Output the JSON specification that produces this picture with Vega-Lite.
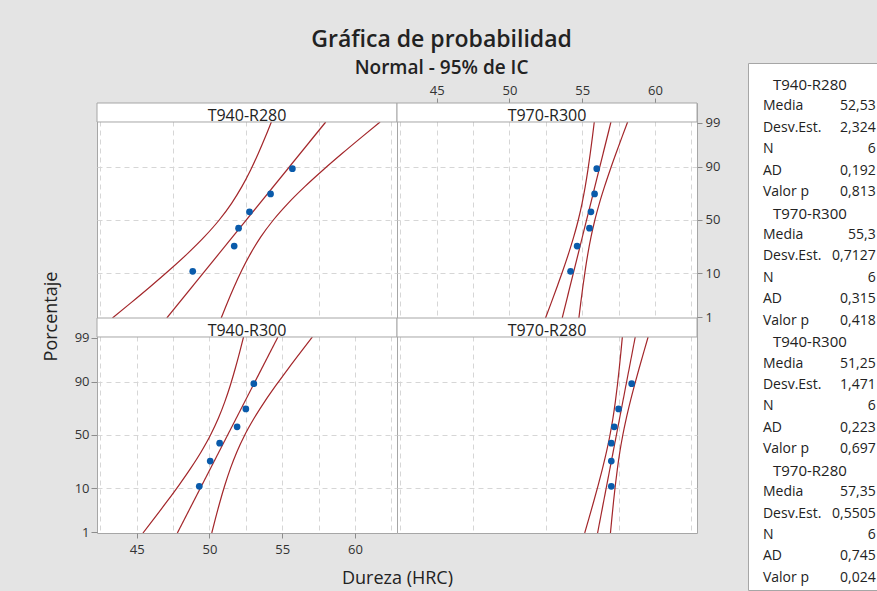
{
  "$schema": "https://vega.github.io/schema/vega-lite/v6.json",
  "background": "#e4e4e4",
  "padding": {"left": 41, "top": 28, "right": 0, "bottom": 0},
  "title": {
    "text": "Gráfica de probabilidad",
    "subtitle": "Normal - 95% de IC",
    "anchor": "middle",
    "fontSize": 23,
    "fontWeight": 600,
    "color": "#222222",
    "subtitleFontSize": 19,
    "subtitleFontWeight": 600,
    "subtitleColor": "#222222",
    "subtitlePadding": 7,
    "offset": -15,
    "dx": -18
  },
  "datasets": {
    "pts": [
      {"panel": "T940-R280", "p": 10.94, "z": -1.2296, "x": 48.85},
      {"panel": "T940-R280", "p": 26.56, "z": -0.626, "x": 51.7},
      {"panel": "T940-R280", "p": 42.19, "z": -0.197, "x": 52.0},
      {"panel": "T940-R280", "p": 57.81, "z": 0.197, "x": 52.75},
      {"panel": "T940-R280", "p": 73.44, "z": 0.626, "x": 54.2},
      {"panel": "T940-R280", "p": 89.06, "z": 1.2296, "x": 55.7},
      {"panel": "T970-R300", "p": 10.94, "z": -1.2296, "x": 54.2},
      {"panel": "T970-R300", "p": 26.56, "z": -0.626, "x": 54.65},
      {"panel": "T970-R300", "p": 42.19, "z": -0.197, "x": 55.5},
      {"panel": "T970-R300", "p": 57.81, "z": 0.197, "x": 55.6},
      {"panel": "T970-R300", "p": 73.44, "z": 0.626, "x": 55.85},
      {"panel": "T970-R300", "p": 89.06, "z": 1.2296, "x": 56.0},
      {"panel": "T940-R300", "p": 10.94, "z": -1.2296, "x": 49.3},
      {"panel": "T940-R300", "p": 26.56, "z": -0.626, "x": 50.05},
      {"panel": "T940-R300", "p": 42.19, "z": -0.197, "x": 50.7},
      {"panel": "T940-R300", "p": 57.81, "z": 0.197, "x": 51.9},
      {"panel": "T940-R300", "p": 73.44, "z": 0.626, "x": 52.5},
      {"panel": "T940-R300", "p": 89.06, "z": 1.2296, "x": 53.05},
      {"panel": "T970-R280", "p": 10.94, "z": -1.2296, "x": 57.0},
      {"panel": "T970-R280", "p": 26.56, "z": -0.626, "x": 57.0},
      {"panel": "T970-R280", "p": 42.19, "z": -0.197, "x": 57.0},
      {"panel": "T970-R280", "p": 57.81, "z": 0.197, "x": 57.2},
      {"panel": "T970-R280", "p": 73.44, "z": 0.626, "x": 57.5},
      {"panel": "T970-R280", "p": 89.06, "z": 1.2296, "x": 58.4}
    ],
    "strips": [
      {"panel": "T940-R280"}, {"panel": "T970-R300"}, {"panel": "T940-R300"}, {"panel": "T970-R280"}
    ],
    "curves": [
      {"panel": "T940-R280", "curve": "fit", "z": -2.35, "x": 47.069},
      {"panel": "T940-R280", "curve": "fit", "z": 2.35, "x": 57.991},
      {"panel": "T940-R280", "curve": "lo", "z": -2.35, "x": 43.332},
      {"panel": "T940-R280", "curve": "lo", "z": -2.0, "x": 44.555},
      {"panel": "T940-R280", "curve": "lo", "z": -1.6, "x": 45.926},
      {"panel": "T940-R280", "curve": "lo", "z": -1.2, "x": 47.252},
      {"panel": "T940-R280", "curve": "lo", "z": -0.8, "x": 48.509},
      {"panel": "T940-R280", "curve": "lo", "z": -0.4, "x": 49.66},
      {"panel": "T940-R280", "curve": "lo", "z": 0, "x": 50.67},
      {"panel": "T940-R280", "curve": "lo", "z": 0.4, "x": 51.52},
      {"panel": "T940-R280", "curve": "lo", "z": 0.8, "x": 52.227},
      {"panel": "T940-R280", "curve": "lo", "z": 1.2, "x": 52.83},
      {"panel": "T940-R280", "curve": "lo", "z": 1.6, "x": 53.362},
      {"panel": "T940-R280", "curve": "lo", "z": 2.0, "x": 53.851},
      {"panel": "T940-R280", "curve": "lo", "z": 2.35, "x": 54.254},
      {"panel": "T940-R280", "curve": "hi", "z": -2.35, "x": 50.806},
      {"panel": "T940-R280", "curve": "hi", "z": -2.0, "x": 51.209},
      {"panel": "T940-R280", "curve": "hi", "z": -1.6, "x": 51.698},
      {"panel": "T940-R280", "curve": "hi", "z": -1.2, "x": 52.23},
      {"panel": "T940-R280", "curve": "hi", "z": -0.8, "x": 52.833},
      {"panel": "T940-R280", "curve": "hi", "z": -0.4, "x": 53.54},
      {"panel": "T940-R280", "curve": "hi", "z": 0, "x": 54.39},
      {"panel": "T940-R280", "curve": "hi", "z": 0.4, "x": 55.4},
      {"panel": "T940-R280", "curve": "hi", "z": 0.8, "x": 56.551},
      {"panel": "T940-R280", "curve": "hi", "z": 1.2, "x": 57.808},
      {"panel": "T940-R280", "curve": "hi", "z": 1.6, "x": 59.134},
      {"panel": "T940-R280", "curve": "hi", "z": 2.0, "x": 60.505},
      {"panel": "T940-R280", "curve": "hi", "z": 2.35, "x": 61.728},

      {"panel": "T970-R300", "curve": "fit", "z": -2.35, "x": 53.625},
      {"panel": "T970-R300", "curve": "fit", "z": 2.35, "x": 56.975},
      {"panel": "T970-R300", "curve": "lo", "z": -2.35, "x": 52.479},
      {"panel": "T970-R300", "curve": "lo", "z": -2.0, "x": 52.855},
      {"panel": "T970-R300", "curve": "lo", "z": -1.6, "x": 53.275},
      {"panel": "T970-R300", "curve": "lo", "z": -1.2, "x": 53.682},
      {"panel": "T970-R300", "curve": "lo", "z": -0.8, "x": 54.067},
      {"panel": "T970-R300", "curve": "lo", "z": -0.4, "x": 54.42},
      {"panel": "T970-R300", "curve": "lo", "z": 0, "x": 54.73},
      {"panel": "T970-R300", "curve": "lo", "z": 0.4, "x": 54.99},
      {"panel": "T970-R300", "curve": "lo", "z": 0.8, "x": 55.207},
      {"panel": "T970-R300", "curve": "lo", "z": 1.2, "x": 55.392},
      {"panel": "T970-R300", "curve": "lo", "z": 1.6, "x": 55.555},
      {"panel": "T970-R300", "curve": "lo", "z": 2.0, "x": 55.705},
      {"panel": "T970-R300", "curve": "lo", "z": 2.35, "x": 55.829},
      {"panel": "T970-R300", "curve": "hi", "z": -2.35, "x": 54.771},
      {"panel": "T970-R300", "curve": "hi", "z": -2.0, "x": 54.895},
      {"panel": "T970-R300", "curve": "hi", "z": -1.6, "x": 55.045},
      {"panel": "T970-R300", "curve": "hi", "z": -1.2, "x": 55.208},
      {"panel": "T970-R300", "curve": "hi", "z": -0.8, "x": 55.393},
      {"panel": "T970-R300", "curve": "hi", "z": -0.4, "x": 55.61},
      {"panel": "T970-R300", "curve": "hi", "z": 0, "x": 55.87},
      {"panel": "T970-R300", "curve": "hi", "z": 0.4, "x": 56.18},
      {"panel": "T970-R300", "curve": "hi", "z": 0.8, "x": 56.533},
      {"panel": "T970-R300", "curve": "hi", "z": 1.2, "x": 56.918},
      {"panel": "T970-R300", "curve": "hi", "z": 1.6, "x": 57.325},
      {"panel": "T970-R300", "curve": "hi", "z": 2.0, "x": 57.745},
      {"panel": "T970-R300", "curve": "hi", "z": 2.35, "x": 58.121},

      {"panel": "T940-R300", "curve": "fit", "z": -2.35, "x": 47.793},
      {"panel": "T940-R300", "curve": "fit", "z": 2.35, "x": 54.707},
      {"panel": "T940-R300", "curve": "lo", "z": -2.35, "x": 45.428},
      {"panel": "T940-R300", "curve": "lo", "z": -2.0, "x": 46.202},
      {"panel": "T940-R300", "curve": "lo", "z": -1.6, "x": 47.07},
      {"panel": "T940-R300", "curve": "lo", "z": -1.2, "x": 47.909},
      {"panel": "T940-R300", "curve": "lo", "z": -0.8, "x": 48.704},
      {"panel": "T940-R300", "curve": "lo", "z": -0.4, "x": 49.434},
      {"panel": "T940-R300", "curve": "lo", "z": 0, "x": 50.073},
      {"panel": "T940-R300", "curve": "lo", "z": 0.4, "x": 50.611},
      {"panel": "T940-R300", "curve": "lo", "z": 0.8, "x": 51.058},
      {"panel": "T940-R300", "curve": "lo", "z": 1.2, "x": 51.44},
      {"panel": "T940-R300", "curve": "lo", "z": 1.6, "x": 51.777},
      {"panel": "T940-R300", "curve": "lo", "z": 2.0, "x": 52.086},
      {"panel": "T940-R300", "curve": "lo", "z": 2.35, "x": 52.342},
      {"panel": "T940-R300", "curve": "hi", "z": -2.35, "x": 50.158},
      {"panel": "T940-R300", "curve": "hi", "z": -2.0, "x": 50.414},
      {"panel": "T940-R300", "curve": "hi", "z": -1.6, "x": 50.723},
      {"panel": "T940-R300", "curve": "hi", "z": -1.2, "x": 51.061},
      {"panel": "T940-R300", "curve": "hi", "z": -0.8, "x": 51.442},
      {"panel": "T940-R300", "curve": "hi", "z": -0.4, "x": 51.889},
      {"panel": "T940-R300", "curve": "hi", "z": 0, "x": 52.427},
      {"panel": "T940-R300", "curve": "hi", "z": 0.4, "x": 53.066},
      {"panel": "T940-R300", "curve": "hi", "z": 0.8, "x": 53.795},
      {"panel": "T940-R300", "curve": "hi", "z": 1.2, "x": 54.591},
      {"panel": "T940-R300", "curve": "hi", "z": 1.6, "x": 55.43},
      {"panel": "T940-R300", "curve": "hi", "z": 2.0, "x": 56.298},
      {"panel": "T940-R300", "curve": "hi", "z": 2.35, "x": 57.072},

      {"panel": "T970-R280", "curve": "fit", "z": -2.35, "x": 56.056},
      {"panel": "T970-R280", "curve": "fit", "z": 2.35, "x": 58.644},
      {"panel": "T970-R280", "curve": "lo", "z": -2.35, "x": 55.171},
      {"panel": "T970-R280", "curve": "lo", "z": -2.0, "x": 55.461},
      {"panel": "T970-R280", "curve": "lo", "z": -1.6, "x": 55.785},
      {"panel": "T970-R280", "curve": "lo", "z": -1.2, "x": 56.099},
      {"panel": "T970-R280", "curve": "lo", "z": -0.8, "x": 56.397},
      {"panel": "T970-R280", "curve": "lo", "z": -0.4, "x": 56.67},
      {"panel": "T970-R280", "curve": "lo", "z": 0, "x": 56.91},
      {"panel": "T970-R280", "curve": "lo", "z": 0.4, "x": 57.111},
      {"panel": "T970-R280", "curve": "lo", "z": 0.8, "x": 57.278},
      {"panel": "T970-R280", "curve": "lo", "z": 1.2, "x": 57.421},
      {"panel": "T970-R280", "curve": "lo", "z": 1.6, "x": 57.547},
      {"panel": "T970-R280", "curve": "lo", "z": 2.0, "x": 57.663},
      {"panel": "T970-R280", "curve": "lo", "z": 2.35, "x": 57.759},
      {"panel": "T970-R280", "curve": "hi", "z": -2.35, "x": 56.941},
      {"panel": "T970-R280", "curve": "hi", "z": -2.0, "x": 57.037},
      {"panel": "T970-R280", "curve": "hi", "z": -1.6, "x": 57.152},
      {"panel": "T970-R280", "curve": "hi", "z": -1.2, "x": 57.279},
      {"panel": "T970-R280", "curve": "hi", "z": -0.8, "x": 57.422},
      {"panel": "T970-R280", "curve": "hi", "z": -0.4, "x": 57.589},
      {"panel": "T970-R280", "curve": "hi", "z": 0, "x": 57.791},
      {"panel": "T970-R280", "curve": "hi", "z": 0.4, "x": 58.03},
      {"panel": "T970-R280", "curve": "hi", "z": 0.8, "x": 58.302},
      {"panel": "T970-R280", "curve": "hi", "z": 1.2, "x": 58.6},
      {"panel": "T970-R280", "curve": "hi", "z": 1.6, "x": 58.914},
      {"panel": "T970-R280", "curve": "hi", "z": 2.0, "x": 59.239},
      {"panel": "T970-R280", "curve": "hi", "z": 2.35, "x": 59.529}
    ],
    "leg": [
      {"k": "h1", "h": "T940-R280", "label": "", "value": ""},
      {"k": "m1", "h": "", "label": "Media", "value": "52,53"},
      {"k": "s1", "h": "", "label": "Desv.Est.", "value": "2,324"},
      {"k": "n1", "h": "", "label": "N", "value": "6"},
      {"k": "a1", "h": "", "label": "AD", "value": "0,192"},
      {"k": "p1", "h": "", "label": "Valor p", "value": "0,813"},
      {"k": "h2", "h": "T970-R300", "label": "", "value": ""},
      {"k": "m2", "h": "", "label": "Media", "value": "55,3"},
      {"k": "s2", "h": "", "label": "Desv.Est.", "value": "0,7127"},
      {"k": "n2", "h": "", "label": "N", "value": "6"},
      {"k": "a2", "h": "", "label": "AD", "value": "0,315"},
      {"k": "p2", "h": "", "label": "Valor p", "value": "0,418"},
      {"k": "h3", "h": "T940-R300", "label": "", "value": ""},
      {"k": "m3", "h": "", "label": "Media", "value": "51,25"},
      {"k": "s3", "h": "", "label": "Desv.Est.", "value": "1,471"},
      {"k": "n3", "h": "", "label": "N", "value": "6"},
      {"k": "a3", "h": "", "label": "AD", "value": "0,223"},
      {"k": "p3", "h": "", "label": "Valor p", "value": "0,697"},
      {"k": "h4", "h": "T970-R280", "label": "", "value": ""},
      {"k": "m4", "h": "", "label": "Media", "value": "57,35"},
      {"k": "s4", "h": "", "label": "Desv.Est.", "value": "0,5505"},
      {"k": "n4", "h": "", "label": "N", "value": "6"},
      {"k": "a4", "h": "", "label": "AD", "value": "0,745"},
      {"k": "p4", "h": "", "label": "Valor p", "value": "0,024"}
    ]
  },
  "spacing": 26,
  "hconcat": [
    {
      "columns": 2,
      "spacing": 0,
      "bounds": "flush",
      "concat": [
        {"width": 300, "height": 40, "view": {"stroke": null, "fill": null}, "data": {"values": [{}]}, "mark": {"type": "text", "text": ""}, "encoding": {}},
        {"width": 300, "height": 40, "view": {"stroke": null, "fill": null}, "data": {"values": [{}]}, "mark": {"type": "text", "text": ""}, "encoding": {}},
        {
          "width": 300, "height": 215,
          "layer": [
            {"data": {"name": "curves"}, "transform": [{"filter": "datum.panel === 'T940-R280'"}],
             "mark": {"type": "line", "clip": true, "color": "#a3262a", "strokeWidth": 1.2, "interpolate": "monotone"},
             "encoding": {
               "x": {"field": "x", "type": "quantitative", "scale": {"domain": [42.27, 62.89], "nice": false, "zero": false},
                     "axis": {"orient": "bottom", "values": [42.5, 45, 47.5, 50, 52.5, 55, 57.5, 60, 62.5], "labels": false, "ticks": false, "domain": false, "grid": true, "title": null}},
               "y": {"field": "z", "type": "quantitative", "scale": {"domain": [-2.35, 2.8056], "nice": false, "zero": false},
                     "axis": {"orient": "left", "values": [-1.2816, 0, 1.2816], "labels": false, "ticks": false, "domain": false, "grid": true, "title": null}},
               "detail": {"field": "curve"},
               "order": {"field": "z", "type": "quantitative"}
             }},
            {"data": {"name": "pts"}, "transform": [{"filter": "datum.panel === 'T940-R280'"}],
             "mark": {"type": "circle", "size": 45, "color": "#0a5bab", "opacity": 1},
             "encoding": {"x": {"field": "x", "type": "quantitative"}, "y": {"field": "z", "type": "quantitative"}}},
            {"data": {"name": "strips"}, "transform": [{"filter": "datum.panel === 'T940-R280'"}],
             "mark": {"type": "rect", "fill": "white", "stroke": "#a6a6a6", "strokeWidth": 1},
             "encoding": {"x": {"datum": 42.27}, "x2": {"datum": 62.89}, "y": {"datum": 2.35}, "y2": {"datum": 2.8056}}},
            {"data": {"name": "strips"}, "transform": [{"filter": "datum.panel === 'T940-R280'"}],
             "mark": {"type": "text", "fontSize": 16, "color": "#222222", "baseline": "alphabetic", "dy": -1},
             "encoding": {"x": {"datum": 52.58}, "y": {"datum": 2.35}, "text": {"field": "panel"}}}
          ]
        },
        {
          "width": 300, "height": 215,
          "resolve": {"axis": {"x": "independent"}},
          "layer": [
            {"data": {"name": "curves"}, "transform": [{"filter": "datum.panel === 'T970-R300'"}],
             "mark": {"type": "line", "clip": true, "color": "#a3262a", "strokeWidth": 1.2, "interpolate": "monotone"},
             "encoding": {
               "x": {"field": "x", "type": "quantitative", "scale": {"domain": [42.27, 62.89], "nice": false, "zero": false},
                     "axis": {"orient": "bottom", "values": [42.5, 45, 47.5, 50, 52.5, 55, 57.5, 60, 62.5], "labels": false, "ticks": false, "domain": false, "grid": true, "title": null}},
               "y": {"field": "z", "type": "quantitative", "scale": {"domain": [-2.35, 2.8056], "nice": false, "zero": false},
                     "axis": {"orient": "right", "values": [-2.3263, -1.2816, 0, 1.2816, 2.3263],
                              "labelExpr": "datum.value < -2 ? '1' : datum.value < -1 ? '10' : datum.value < 1 ? '50' : datum.value < 2 ? '90' : '99'",
                              "labelOverlap": false,
                              "gridOpacity": {"condition": {"test": "abs(datum.value) > 2", "value": 0}, "value": 1},
                              "tickSize": 5, "labelPadding": 3, "domain": false, "grid": true, "title": null}},
               "detail": {"field": "curve"},
               "order": {"field": "z", "type": "quantitative"}
             }},
            {"data": {"name": "pts"}, "transform": [{"filter": "datum.panel === 'T970-R300'"}],
             "mark": {"type": "circle", "size": 45, "color": "#0a5bab", "opacity": 1},
             "encoding": {
               "x": {"field": "x", "type": "quantitative",
                     "axis": {"orient": "top", "values": [45, 50, 55, 60], "labelOverlap": false, "tickSize": 5, "labelPadding": 1, "domain": false, "grid": false, "title": null}},
               "y": {"field": "z", "type": "quantitative"}}},
            {"data": {"name": "strips"}, "transform": [{"filter": "datum.panel === 'T970-R300'"}],
             "mark": {"type": "rect", "fill": "white", "stroke": "#a6a6a6", "strokeWidth": 1},
             "encoding": {"x": {"datum": 42.27, "axis": null}, "x2": {"datum": 62.89}, "y": {"datum": 2.35}, "y2": {"datum": 2.8056}}},
            {"data": {"name": "strips"}, "transform": [{"filter": "datum.panel === 'T970-R300'"}],
             "mark": {"type": "text", "fontSize": 16, "color": "#222222", "baseline": "alphabetic", "dy": -1},
             "encoding": {"x": {"datum": 52.58, "axis": null}, "y": {"datum": 2.35}, "text": {"field": "panel"}}}
          ]
        },
        {
          "width": 300, "height": 215,
          "resolve": {"axis": {"x": "independent"}},
          "layer": [
            {"data": {"name": "curves"}, "transform": [{"filter": "datum.panel === 'T940-R300'"}],
             "mark": {"type": "line", "clip": true, "color": "#a3262a", "strokeWidth": 1.2, "interpolate": "monotone"},
             "encoding": {
               "x": {"field": "x", "type": "quantitative", "scale": {"domain": [42.27, 62.89], "nice": false, "zero": false},
                     "axis": {"orient": "bottom", "values": [42.5, 45, 47.5, 50, 52.5, 55, 57.5, 60, 62.5], "labels": false, "ticks": false, "domain": false, "grid": true, "title": null}},
               "y": {"field": "z", "type": "quantitative", "scale": {"domain": [-2.35, 2.8056], "nice": false, "zero": false},
                     "axis": {"orient": "left", "values": [-2.3263, -1.2816, 0, 1.2816, 2.3263],
                              "labelExpr": "datum.value < -2 ? '1' : datum.value < -1 ? '10' : datum.value < 1 ? '50' : datum.value < 2 ? '90' : '99'",
                              "labelOverlap": false,
                              "gridOpacity": {"condition": {"test": "abs(datum.value) > 2", "value": 0}, "value": 1},
                              "tickSize": 6, "labelPadding": 2, "domain": false, "grid": true,
                              "title": "Porcentaje", "titleY": -2, "titleFontSize": 18, "titlePadding": 14}},
               "detail": {"field": "curve"},
               "order": {"field": "z", "type": "quantitative"}
             }},
            {"data": {"name": "pts"}, "transform": [{"filter": "datum.panel === 'T940-R300'"}],
             "mark": {"type": "circle", "size": 45, "color": "#0a5bab", "opacity": 1},
             "encoding": {
               "x": {"field": "x", "type": "quantitative",
                     "axis": {"orient": "bottom", "values": [45, 50, 55, 60], "labelOverlap": false, "tickSize": 5, "labelPadding": 5, "domain": false, "grid": false,
                              "title": "Dureza (HRC)", "titleX": 300, "titleFontSize": 18, "titlePadding": 13}},
               "y": {"field": "z", "type": "quantitative"}}},
            {"data": {"name": "strips"}, "transform": [{"filter": "datum.panel === 'T940-R300'"}],
             "mark": {"type": "rect", "fill": "white", "stroke": "#a6a6a6", "strokeWidth": 1},
             "encoding": {"x": {"datum": 42.27, "axis": null}, "x2": {"datum": 62.89}, "y": {"datum": 2.35}, "y2": {"datum": 2.8056}}},
            {"data": {"name": "strips"}, "transform": [{"filter": "datum.panel === 'T940-R300'"}],
             "mark": {"type": "text", "fontSize": 16, "color": "#222222", "baseline": "alphabetic", "dy": -1},
             "encoding": {"x": {"datum": 52.58, "axis": null}, "y": {"datum": 2.35}, "text": {"field": "panel"}}}
          ]
        },
        {
          "width": 300, "height": 215,
          "layer": [
            {"data": {"name": "curves"}, "transform": [{"filter": "datum.panel === 'T970-R280'"}],
             "mark": {"type": "line", "clip": true, "color": "#a3262a", "strokeWidth": 1.2, "interpolate": "monotone"},
             "encoding": {
               "x": {"field": "x", "type": "quantitative", "scale": {"domain": [42.27, 62.89], "nice": false, "zero": false},
                     "axis": {"orient": "bottom", "values": [42.5, 45, 47.5, 50, 52.5, 55, 57.5, 60, 62.5], "labels": false, "ticks": false, "domain": false, "grid": true, "title": null}},
               "y": {"field": "z", "type": "quantitative", "scale": {"domain": [-2.35, 2.8056], "nice": false, "zero": false},
                     "axis": {"orient": "left", "values": [-1.2816, 0, 1.2816], "labels": false, "ticks": false, "domain": false, "grid": true, "title": null}},
               "detail": {"field": "curve"},
               "order": {"field": "z", "type": "quantitative"}
             }},
            {"data": {"name": "pts"}, "transform": [{"filter": "datum.panel === 'T970-R280'"}],
             "mark": {"type": "circle", "size": 45, "color": "#0a5bab", "opacity": 1},
             "encoding": {"x": {"field": "x", "type": "quantitative"}, "y": {"field": "z", "type": "quantitative"}}},
            {"data": {"name": "strips"}, "transform": [{"filter": "datum.panel === 'T970-R280'"}],
             "mark": {"type": "rect", "fill": "white", "stroke": "#a6a6a6", "strokeWidth": 1},
             "encoding": {"x": {"datum": 42.27}, "x2": {"datum": 62.89}, "y": {"datum": 2.35}, "y2": {"datum": 2.8056}}},
            {"data": {"name": "strips"}, "transform": [{"filter": "datum.panel === 'T970-R280'"}],
             "mark": {"type": "text", "fontSize": 16, "color": "#222222", "baseline": "alphabetic", "dy": -1},
             "encoding": {"x": {"datum": 52.58}, "y": {"datum": 2.35}, "text": {"field": "panel"}}}
          ]
        }
      ]
    },
    {
      "width": 129, "height": 527,
      "view": {"fill": "white", "stroke": "#a6a6a6"},
      "data": {"name": "leg"},
      "encoding": {
        "y": {"field": "k", "type": "ordinal", "sort": null, "scale": {"type": "point", "padding": 0.796, "align": 0.645}, "axis": null}
      },
      "layer": [
        {"mark": {"type": "text", "align": "center", "baseline": "middle", "fontSize": 15, "color": "#222222"},
         "encoding": {"x": {"datum": 0.48, "scale": {"domain": [0, 1], "nice": false, "zero": false}, "axis": null}, "text": {"field": "h"}}},
        {"mark": {"type": "text", "align": "left", "baseline": "middle", "fontSize": 14, "color": "#222222"},
         "encoding": {"x": {"datum": 0.116}, "text": {"field": "label"}}},
        {"mark": {"type": "text", "align": "right", "baseline": "middle", "fontSize": 14, "color": "#222222"},
         "encoding": {"x": {"datum": 0.99}, "text": {"field": "value"}}}
      ]
    }
  ],
  "config": {
    "font": "Open Sans",
    "view": {"stroke": "#a6a6a6", "strokeWidth": 1, "fill": "white"},
    "axis": {
      "labelFont": "Open Sans", "labelFontSize": 13, "labelColor": "#333333",
      "tickColor": "#8c8c8c", "gridColor": "#d6d6d6", "gridDash": [5, 4], "gridWidth": 1,
      "titleFont": "Open Sans", "titleColor": "#222222", "titleFontWeight": "normal"
    }
  }
}
